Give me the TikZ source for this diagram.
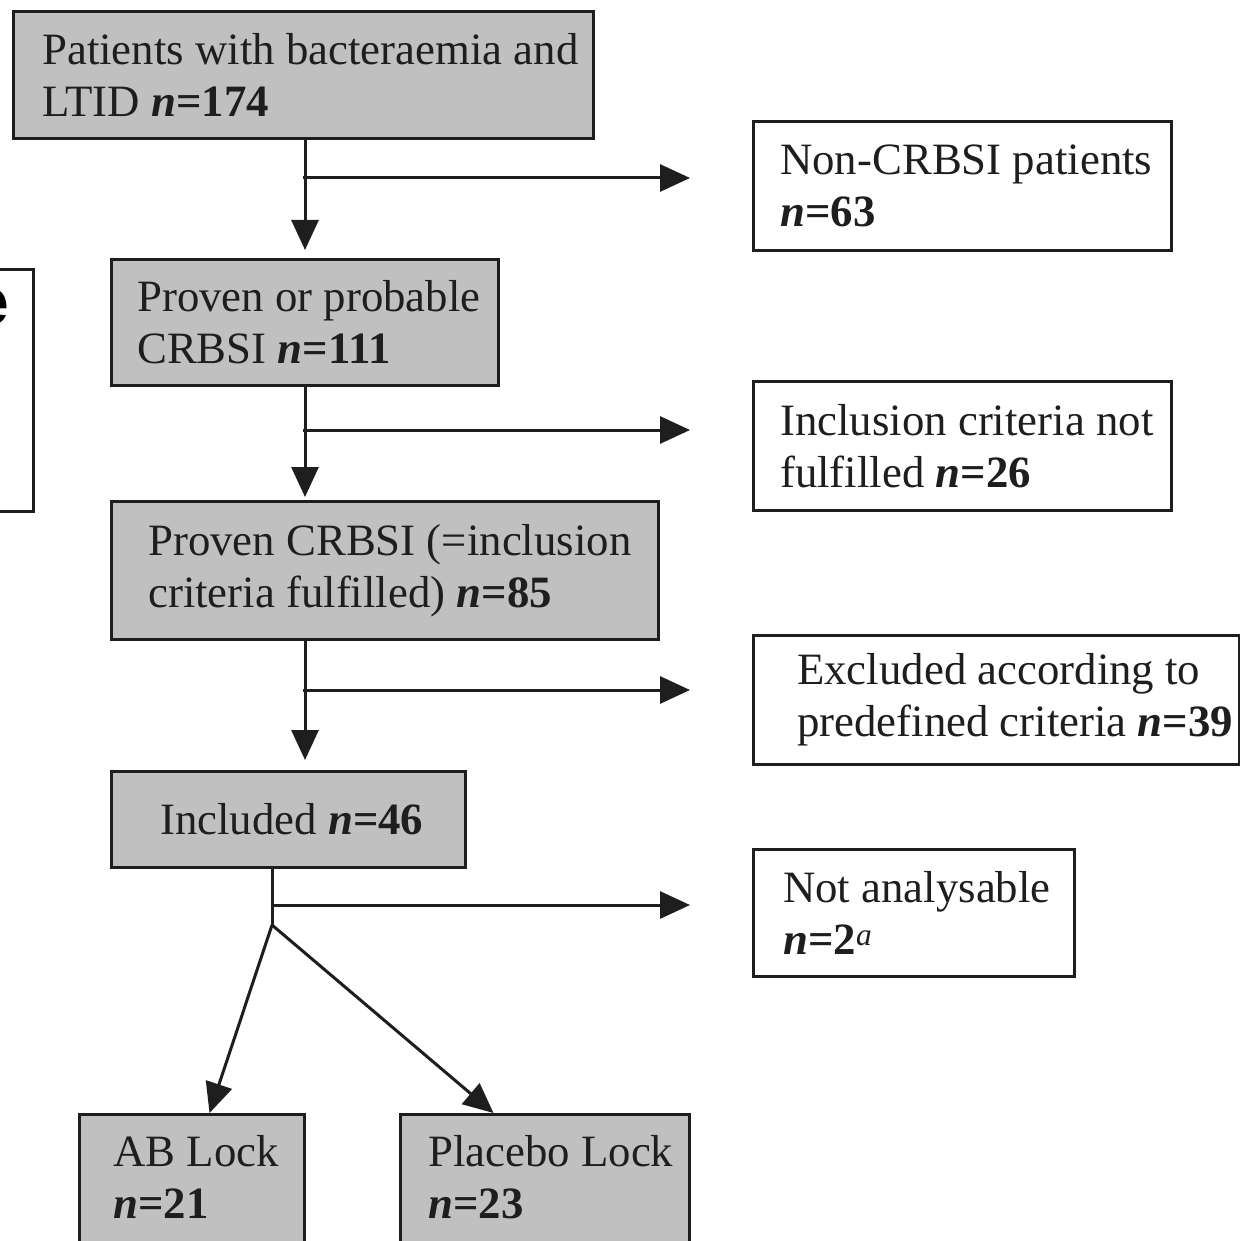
\documentclass[tikz,border=0pt]{standalone}
\usepackage{fontspec}
\setmainfont{Liberation Serif}
\setsansfont{Liberation Sans}
\usetikzlibrary{arrows.meta}
\definecolor{boxgray}{RGB}{192,192,192}
\definecolor{ink}{RGB}{30,30,30}
\newcommand\nval[1]{\textbf{\textit{n}=#1}}
\begin{document}
\begin{tikzpicture}[x=1pt,y=-1pt,
  txt/.style={inner sep=0, align=left, font=\fontsize{44.8}{52}\selectfont, text=ink, anchor=west},
  gbox/.style={draw=ink, fill=boxgray, line width=3, inner sep=0, anchor=north west},
  wbox/.style={draw=ink, fill=white, line width=3, inner sep=0, anchor=north west},
  conn/.style={draw=ink, line width=3, -{Triangle[length=30pt,width=27pt]}},
  plain/.style={draw=ink, line width=3}]
\useasboundingbox[fill=white] (0,0) rectangle (1239,1241);
% left partial box
\node[draw=ink, line width=3, minimum width=80, minimum height=242, inner sep=0, anchor=north east] (lb) at (35,268) {};
\node[anchor=base east, inner sep=0, font=\fontsize{66}{70}\selectfont\sffamily\bfseries, text=black] (le) at (9,324) {e};
% main column
\node[gbox, minimum width=580, minimum height=127] (a) at (12,10) {};
\node[txt] (at) at ([xshift=30]a.west) {Patients with bacteraemia and\\LTID \nval{174}};
\node[gbox, minimum width=387, minimum height=126] (b) at (110,258) {};
\node[txt] (bt) at ([xshift=27]b.west) {Proven or probable\\CRBSI \nval{111}};
\node[gbox, minimum width=547, minimum height=138] (c) at (110,500) {};
\node[txt] (ct) at ([xshift=38]c.west) {Proven CRBSI (=inclusion\\criteria fulfilled) \nval{85}};
\node[gbox, minimum width=354, minimum height=96] (d) at (110,770) {};
\node[txt] (dt) at ([xshift=50]d.west) {Included \nval{46}};
% right column
\node[wbox, minimum width=418, minimum height=129] (r1) at (752,120) {};
\node[txt] (r1t) at ([xshift=28]r1.west) {Non-CRBSI patients\\\nval{63}};
\node[wbox, minimum width=418, minimum height=129] (r2) at (752,380) {};
\node[txt] (r2t) at ([xshift=28]r2.west) {Inclusion criteria not\\fulfilled \nval{26}};
\node[wbox, minimum width=486, minimum height=129] (r3) at (752,634) {};
\node[txt] (r3t) at ([xshift=45]r3.west) {Excluded according to\\predefined criteria \nval{39}};
\node[wbox, minimum width=321, minimum height=127] (r4) at (752,848) {};
\node[txt] (r4t) at ([xshift=31]r4.west) {Not analysable\\\nval{2}\textsuperscript{\textit{a}}};
% bottom
\node[gbox, minimum width=225, minimum height=150] (ab) at (78,1113) {};
\node[txt] (abt) at (113,1177) {AB Lock\\\nval{21}};
\node[gbox, minimum width=289, minimum height=150] (pl) at (399,1113) {};
\node[txt] (plt) at (428,1177) {Placebo Lock\\\nval{23}};
% connectors
\coordinate (j1) at (303,178);
\coordinate (j2) at (303,430);
\coordinate (j3) at (303,690);
\coordinate (j4) at (272,905);
\coordinate (j5) at (272,925);
\draw[conn, shorten >=8] (a.south -| b.north) -- (b.north);
\draw[conn, shorten >=62] (j1) -- (j1 -| r1.west);
\draw[conn, shorten >=3] (b.south) -- (b.south |- c.north);
\draw[conn, shorten >=62] (j2) -- (j2 -| r2.west);
\draw[conn, shorten >=10] (c.south -| b.south) -- (b.south |- d.north);
\draw[conn, shorten >=62] (j3) -- (j3 -| r3.west);
\draw[plain] (d.south -| j5) -- (j5);
\draw[conn, shorten >=62] (j4) -- (j4 -| r4.west);
\draw[conn] (j5) -- ([xshift=17.5]ab.north);
\draw[conn] (j5) -- ([xshift=-51.5]pl.north);
\end{tikzpicture}
\end{document}
